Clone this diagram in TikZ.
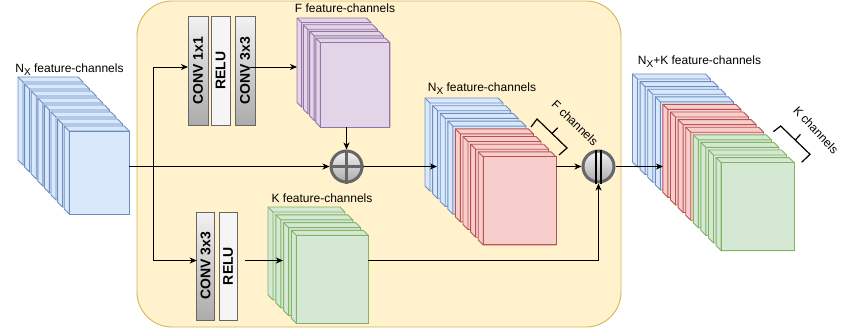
\documentclass[tikz,border=0pt]{standalone}
\usepackage{fontspec}
\setmainfont{Liberation Sans}
\usetikzlibrary{arrows.meta,calc}
\definecolor{bfill}{HTML}{DAE8FC}\definecolor{bdraw}{HTML}{6C8EBF}
\definecolor{rfill}{HTML}{F8CECC}\definecolor{rdraw}{HTML}{B85450}
\definecolor{gfill}{HTML}{D5E8D4}\definecolor{gdraw}{HTML}{82B366}
\definecolor{pfill}{HTML}{E1D5E7}\definecolor{pdraw}{HTML}{9673A6}
\definecolor{yfill}{HTML}{FFF2CC}\definecolor{ydraw}{HTML}{D6B656}
\definecolor{gstroke}{HTML}{666666}
\definecolor{glight}{HTML}{F2F2F2}
\definecolor{gdark}{HTML}{ABABAB}
\definecolor{relufill}{HTML}{F5F5F5}
% cube-like layer: x y w h depth style
\newcommand\cubelayer[6]{%
  \path[#6] (#1,#2) -- ++({#3-#5},0) -- ++(#5,#5) -- ++(0,{#4-#5}) -- ++({-(#3)+#5},0) -- ++(-#5,-#5) -- cycle;
  \path[#6,fill=none] (#1,#2) -- ++(#5,#5) -- ++({#3-#5},0) ({#1+#5},{#2+#5}) -- ++(0,{#4-#5});
}
\newcommand\subX{\raisebox{-3.5pt}{\fontsize{10}{10}\selectfont X}}
\begin{document}
\begin{tikzpicture}[x=1pt,y=-1pt,
  font=\fontsize{12}{14}\selectfont,
  bluel/.style={fill=bfill,draw=bdraw,line width=0.9pt},
  redl/.style={fill=rfill,draw=rdraw,line width=0.9pt},
  greenl/.style={fill=gfill,draw=gdraw,line width=0.9pt},
  purpl/.style={fill=pfill,draw=pdraw,line width=0.9pt},
  face/.style={anchor=north west,inner sep=0pt,outer sep=0pt},
  lbl/.style={inner sep=0pt,text=black},
  convbox/.style={draw=gstroke,line width=0.9pt,top color=glight,bottom color=gdark,
     font=\bfseries\fontsize{14}{16}\selectfont,inner sep=0pt,outer sep=0pt},
  relubox/.style={draw=gstroke,line width=0.9pt,fill=relufill,
     font=\bfseries\fontsize{14}{16}\selectfont,inner sep=0pt,outer sep=0pt},
  opcirc/.style={circle,draw=gstroke,line width=3pt,top color=glight,bottom color=gdark,
     minimum size=31pt,inner sep=0pt},
  conn/.style={line width=0.9pt,draw=black},
  arr/.style={conn,-{Stealth[length=7pt,width=6pt,inset=2pt]}},
  brk/.style={line width=1.2pt,draw=black}
]
\useasboundingbox (0,0) rectangle (841,333);

% container
\node[draw=ydraw,fill=yfill,line width=0.9pt,rounded corners=35pt,minimum width=484pt,minimum height=326pt,inner sep=0pt] (block) at (379,164) {};

% left stack
\foreach \i in {0,...,7} {\cubelayer{18+6.6*\i}{77+7*\i}{65}{88}{5}{bluel}}
\node[face,bluel,minimum width=60pt,minimum height=83pt] (lf) at (69.2,131) {};
\node[lbl,anchor=base] (lblleft) at (69.5,72) {N\subX{} feature-channels};

% purple stack
\foreach \i in {0,...,3} {\cubelayer{297+6.3*\i}{18+6.7*\i}{74}{89}{4.5}{purpl}}
\node[face,purpl,minimum width=69.5pt,minimum height=84.5pt] (pf) at (320.4,42.6) {};
\node[lbl,anchor=base] (lblf) at (345,12) {F feature-channels};

% green K stack
\foreach \i in {0,...,3} {\cubelayer{268+7.8*\i}{207+7.8*\i}{77}{93}{5}{greenl}}
\node[face,greenl,minimum width=72pt,minimum height=88pt] (gf) at (296.4,235.4) {};
\node[lbl,anchor=base] (lblk) at (322,202.5) {K feature-channels};

% middle stack
\foreach \i in {0,...,3} {\cubelayer{425+7.6*\i}{98+7.7*\i}{78}{93}{5}{bluel}}
\foreach \i in {4,...,7} {\cubelayer{425+7.6*\i}{98+7.7*\i}{78}{93}{5}{redl}}
\node[face,redl,minimum width=73pt,minimum height=88pt] (mf) at (483.2,156.9) {};
\node[lbl,anchor=base] (lblmid) at (482,91) {N\subX{} feature-channels};

% right stack
\foreach \i in {0,...,3} {\cubelayer{632.5+7.6*\i}{74+7.6*\i}{78}{93}{5}{bluel}}
\foreach \i in {4,...,7} {\cubelayer{632.5+7.6*\i}{74+7.6*\i}{78}{93}{5}{redl}}
\foreach \i in {8,...,11} {\cubelayer{632.5+7.6*\i}{74+7.6*\i}{78}{93}{5}{greenl}}
\node[face,greenl,minimum width=73pt,minimum height=88pt] (rf) at (721.1,162.6) {};
\node[lbl,anchor=base] (lblright) at (699.5,64) {N\subX{}+K feature-channels};

% brackets
\draw[brk] (531,127) -- (537,119) -- (567,148) -- (559,155);
\draw[brk] (552,133.5) -- (557.7,127.7);
\node[lbl,rotate=-44] (fch) at (575,123) {F channels};
\draw[brk] (773.3,131.7) -- (780.7,126) -- (810,154.3) -- (801.7,162.3);
\draw[brk] (795.3,140) -- (800.5,134.3);
\node[lbl,rotate=-47] (kch) at (816,130) {K channels};

% conv boxes
\node[convbox,minimum width=20pt,minimum height=109pt] (conv1) at (198,70.5) {\rotatebox{90}{CONV 1x1}};
\node[relubox,minimum width=19pt,minimum height=109pt] (relu1) at (220.5,70.5) {\rotatebox{90}{RELU}};
\node[convbox,minimum width=20pt,minimum height=109pt] (conv3a) at (245,70.5) {\rotatebox{90}{CONV 3x3}};
\node[convbox,minimum width=17.5pt,minimum height=108pt] (conv3b) at (205.5,266) {\rotatebox{90}{CONV 3x3}};
\node[relubox,minimum width=18pt,minimum height=108pt] (relu2) at (228,266) {\rotatebox{90}{RELU}};

% operators
\node[opcirc] (plus) at (346.5,166.5) {};
\draw[line width=3pt,draw=gstroke] (plus.north) -- (plus.south) (plus.west) -- (plus.east);
\node[opcirc] (cat) at (598.5,166.5) {};
\draw[line width=2.4pt,draw=black] ([xshift=-2.3pt]cat.north) -- ([xshift=-2.3pt]cat.south)
  ([xshift=2.3pt]cat.north) -- ([xshift=2.3pt]cat.south);

% connector targets
\coordinate (br) at (153,166.5);
\coordinate (ptgt) at (297,67);
\coordinate (mtgt) at (437,166.5);
\coordinate (gtgt) at (283,260.5);
\coordinate (rtgt) at (663,166.5);

% connectors
\draw[arr] (lf.east |- plus) -- (plus.west);
\draw[arr] (br) |- ([yshift=3.5pt]conv1.west);
\draw[arr] (br) |- ([yshift=5.5pt]conv3b.west);
\draw[arr] ([xshift=-5pt,yshift=3.5pt]conv3a.east) -- (ptgt);
\draw[arr] (pf.south -| plus) -- (plus.north);
\draw[arr] (plus.east) -- (mtgt);
\draw[arr] (mf.east |- cat) -- (cat.west);
\draw[arr] ([xshift=8pt,yshift=5.5pt]relu2.east) -- (gtgt);
\draw[arr] (gf.east |- gtgt) -| (cat.south);
\draw[arr] (cat.east) -- (rtgt);
\end{tikzpicture}
\end{document}
